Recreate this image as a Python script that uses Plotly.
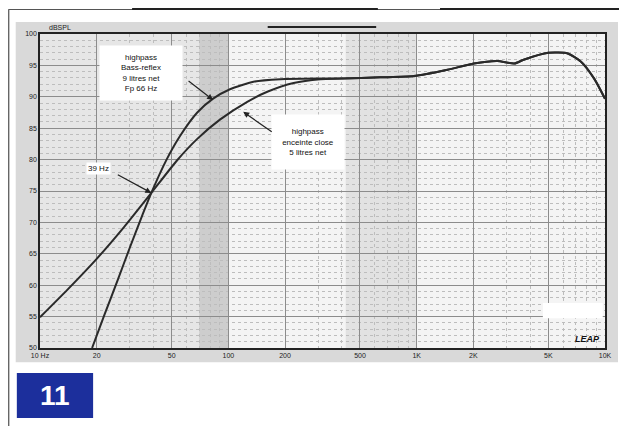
import plotly.graph_objects as go

# frequency response data (Hz, dB SPL)
bassreflex_freq = [18.9, 22, 26, 30, 35, 39, 47, 55.5, 68.4, 83, 102, 136, 189, 300]
bassreflex_db = [50.0, 55.3, 61.0, 66.0, 71.2, 74.7, 80.0, 83.8, 87.5, 89.7, 91.2, 92.4, 92.8, 92.9]

closed_freq = [10, 14, 20, 28, 39, 53.5, 68.4, 90.6, 126, 161, 222, 308]
closed_db = [54.9, 59.3, 64.2, 69.3, 74.7, 79.9, 83.3, 86.4, 89.2, 90.8, 92.2, 92.8]

common_freq = [400, 641, 965, 1459, 2010, 2680, 3300, 3700, 5000, 6340, 7460, 8760, 10000]
common_db = [92.9, 93.1, 93.3, 94.3, 95.3, 95.7, 95.3, 95.9, 97.0, 96.9, 95.6, 92.9, 89.7]

x_tickvals = [10, 20, 50, 100, 200, 500, 1000, 2000, 5000, 10000]
x_ticktext = ['10 Hz', '20', '50', '100', '200', '500', '1K', '2K', '5K', '10K']
x_minor = [m * d for d in (10, 100, 1000) for m in range(1, 10)] + [10000]
y_tickvals = [50, 55, 60, 65, 70, 75, 80, 85, 90, 95, 100]

line_col = '#2a2a2a'
lbl_font = dict(family='Arial', size=7, color='#222')
note_font = dict(family='Arial', size=8, color='#111')

fig = go.Figure()
fig.add_trace(go.Scatter(x=bassreflex_freq + common_freq, y=bassreflex_db + common_db,
                         mode='lines', line=dict(color=line_col, width=2, shape='spline', smoothing=0.6),
                         showlegend=False, hoverinfo='skip'))
fig.add_trace(go.Scatter(x=closed_freq + common_freq, y=closed_db + common_db,
                         mode='lines', line=dict(color=line_col, width=2, shape='spline', smoothing=0.6),
                         showlegend=False, hoverinfo='skip'))

shapes = [
    # grey frame behind the chart
    dict(type='rect', xref='paper', yref='paper', x0=-0.043, x1=1.023, y0=-0.045, y1=1.038,
         fillcolor='#d9d9d9', line=dict(width=0), layer='below'),
    dict(type='rect', xref='paper', yref='paper', x0=0, x1=1, y0=0, y1=1,
         fillcolor='#f4f4f4', line=dict(width=0), layer='below'),
    # shaded bands
    dict(type='rect', xref='x', yref='paper', x0=10, x1=70, y0=0, y1=1,
         fillcolor='#e6e6e6', line=dict(width=0), layer='below'),
    dict(type='rect', xref='x', yref='paper', x0=70, x1=100, y0=0, y1=1,
         fillcolor='#cdcdcd', line=dict(width=0), layer='below'),
    dict(type='rect', xref='x', yref='paper', x0=420, x1=1000, y0=0, y1=1,
         fillcolor='#e2e2e2', line=dict(width=0), layer='below'),
    # white patch lower right
    dict(type='rect', xref='paper', yref='paper', x0=0.89, x1=0.996, y0=0.095, y1=0.143,
         fillcolor='white', line=dict(width=0)),
    # page rules
    dict(type='line', xref='paper', yref='paper', x0=-0.056, x1=1.04, y0=1.078, y1=1.078,
         line=dict(color='#555', width=1)),
    dict(type='line', xref='paper', yref='paper', x0=0.163, x1=0.598, y0=1.08, y1=1.08,
         line=dict(color='#222', width=2)),
    dict(type='line', xref='paper', yref='paper', x0=0.708, x1=1.04, y0=1.08, y1=1.08,
         line=dict(color='#222', width=2)),
    dict(type='line', xref='paper', yref='paper', x0=0.403, x1=0.595, y0=1.022, y1=1.022,
         line=dict(color='#222', width=2)),
    dict(type='line', xref='paper', yref='paper', x0=-0.0555, x1=-0.0555, y0=1.078, y1=-0.25,
         line=dict(color='#666', width=1.5)),
    # figure number box
    dict(type='rect', xref='paper', yref='paper', x0=-0.041, x1=0.094, y0=-0.223, y1=-0.080,
         fillcolor='#1c2f9c', line=dict(width=0)),
]

annotations = [
    dict(text='highpass<br>Bass-reflex<br>9 litres net<br>Fp 66 Hz', xref='paper', yref='paper',
         x=0.179, y=0.876, xanchor='center', yanchor='middle', showarrow=False,
         bgcolor='white', width=80, height=52, font=note_font),
    dict(text='highpass<br>enceinte close<br>5 litres net', xref='paper', yref='paper',
         x=0.474, y=0.656, xanchor='center', yanchor='middle', showarrow=False,
         bgcolor='white', width=70, height=52, font=note_font),
    dict(text='39 Hz', xref='paper', yref='paper', x=0.103, y=0.573, xanchor='center', yanchor='middle',
         showarrow=False, bgcolor='white', font=note_font),
    # arrows
    dict(text='', x=1.919, y=89.5, xref='x', yref='y', ax=-26, ay=-20, showarrow=True,
         arrowhead=2, arrowsize=1, arrowwidth=1.2, arrowcolor='#222'),
    dict(text='', x=2.079, y=87.6, xref='x', yref='y', ax=30, ay=21, showarrow=True,
         arrowhead=2, arrowsize=1, arrowwidth=1.2, arrowcolor='#222'),
    dict(text='', x=1.591, y=74.7, xref='x', yref='y', ax=-35, ay=-19, showarrow=True,
         arrowhead=2, arrowsize=1, arrowwidth=1.2, arrowcolor='#222'),
    dict(text='dBSPL', xref='paper', yref='paper', x=0.012, y=1.003, xanchor='left', yanchor='bottom',
         showarrow=False, font=dict(family='Arial', size=7, color='#222')),
    dict(text='<b><i>LEAP</i></b>', xref='paper', yref='paper', x=0.995, y=0.005, xanchor='right',
         yanchor='bottom', showarrow=False, font=dict(family='Arial', size=9, color='#111')),
    dict(text='<b>11</b>', xref='paper', yref='paper', x=0.027, y=-0.152, xanchor='center',
         yanchor='middle', showarrow=False, font=dict(family='Arial', size=28, color='white')),
]

# the page body adds an 8px offset, so the figure is 8px smaller than the window
fig.update_layout(
    width=619, height=418,
    margin=dict(l=32, r=22, t=26, b=78),
    paper_bgcolor='white',
    plot_bgcolor='rgba(0,0,0,0)',
    shapes=shapes,
    annotations=annotations,
    xaxis=dict(type='log', range=[1, 4], tickvals=x_tickvals, ticktext=x_ticktext,
               showgrid=True, gridcolor='#8c8c8c', gridwidth=1,
               minor=dict(tickvals=x_minor, showgrid=True, gridcolor='#bdbdbd', gridwidth=1, griddash='dot'),
               showline=True, mirror=True, linecolor='#222', linewidth=1.5,
               ticks='', tickfont=lbl_font, zeroline=False),
    yaxis=dict(range=[50, 100], tickvals=y_tickvals,
               showgrid=True, gridcolor='#8c8c8c', gridwidth=1,
               minor=dict(dtick=1, showgrid=True, gridcolor='#bdbdbd', gridwidth=1, griddash='dot'),
               showline=True, mirror=True, linecolor='#222', linewidth=1.5,
               ticks='', tickfont=lbl_font, zeroline=False),
)

fig.write_html('out.html')
